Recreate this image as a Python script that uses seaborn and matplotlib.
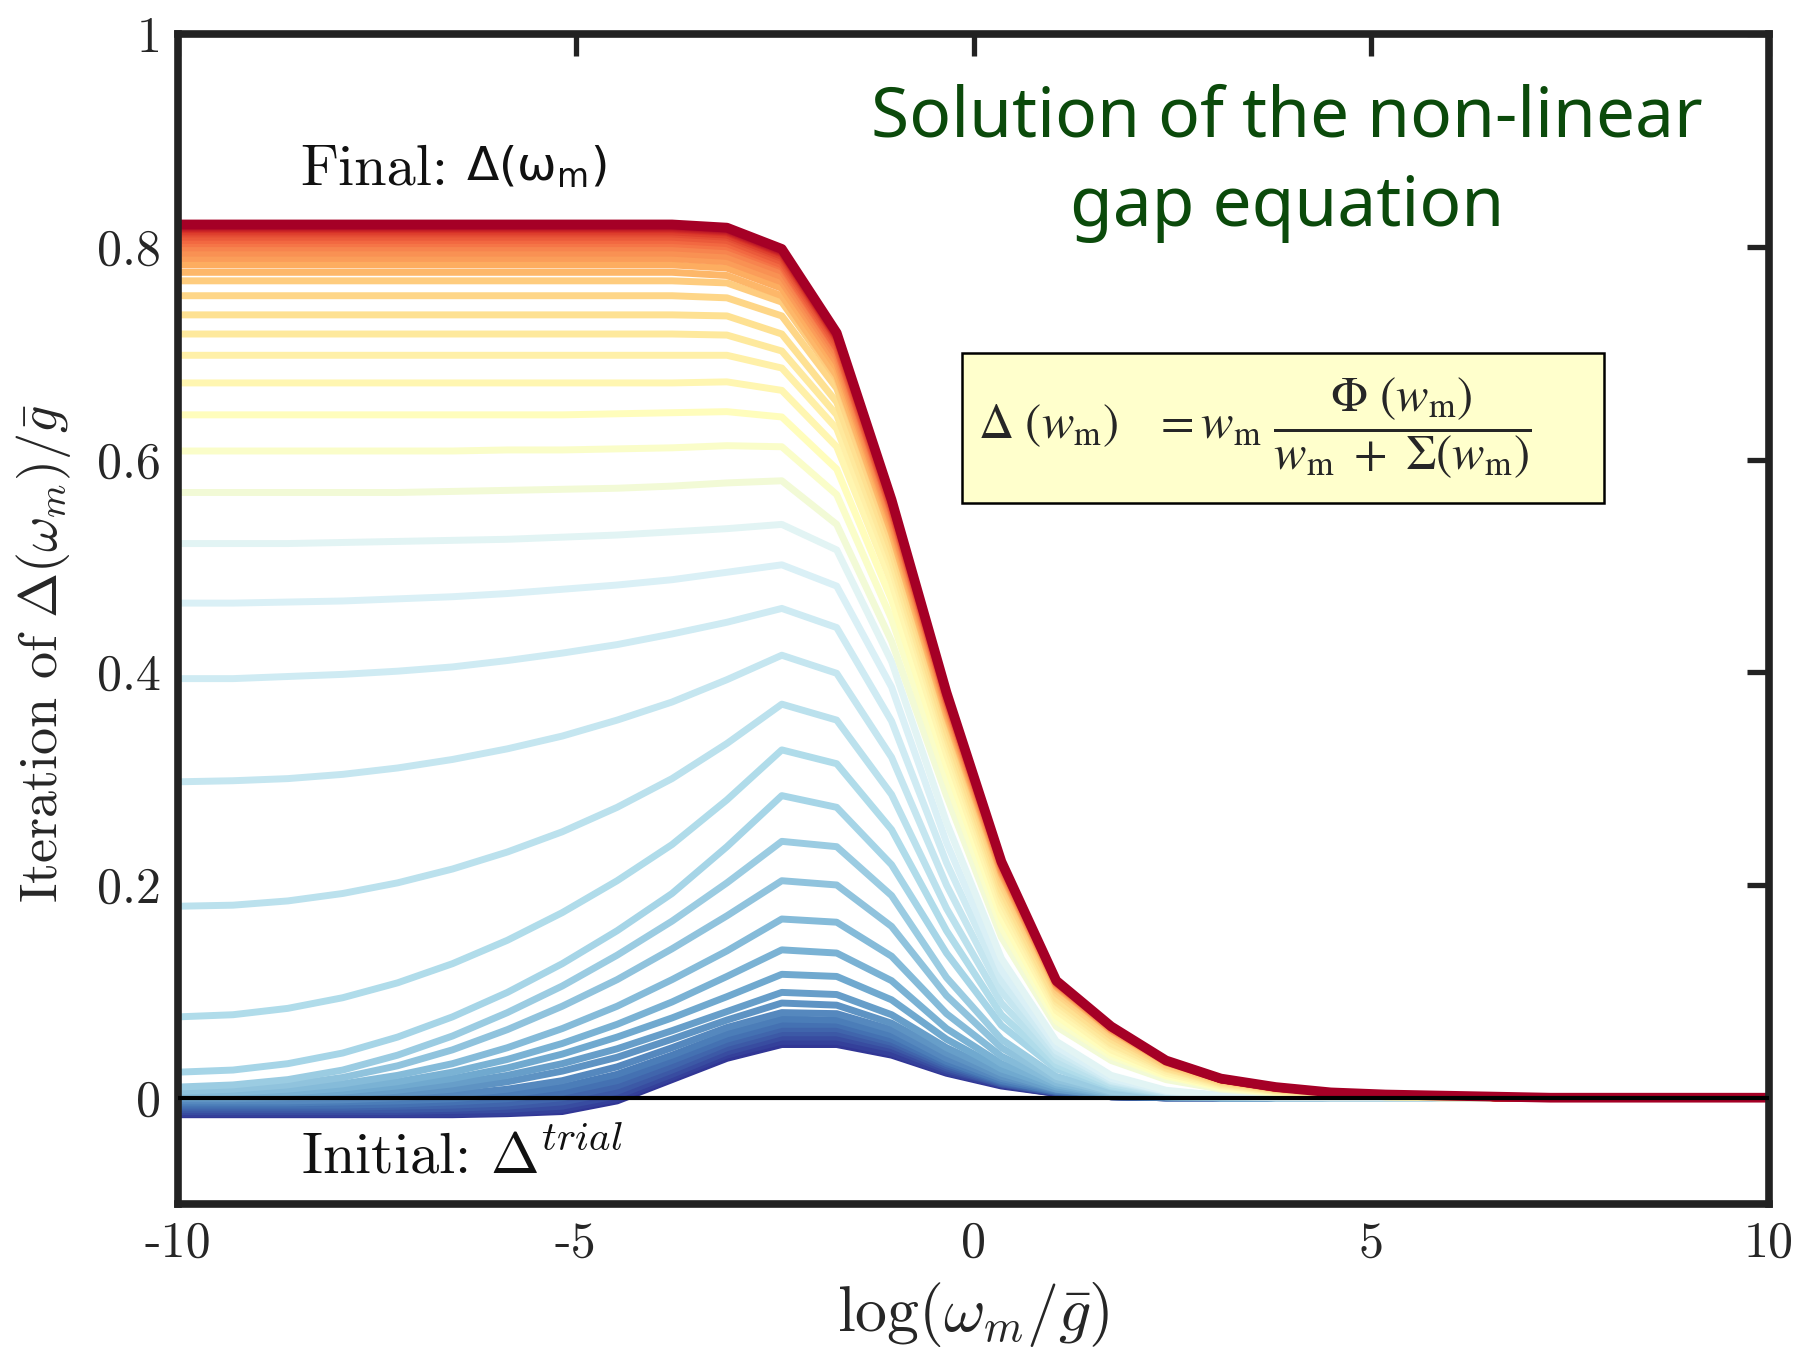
import numpy as np
import pandas as pd
import matplotlib
matplotlib.use("Agg")
import matplotlib.pyplot as plt
from matplotlib.patches import Rectangle
import seaborn as sns

# ---------------- data ----------------
log_w = [-10.0, -9.31, -8.62, -7.93, -7.24, -6.55, -5.86, -5.17, -4.48, -3.79,
         -3.10, -2.41, -1.72, -1.03, -0.34, 0.35, 1.04, 1.73, 2.42, 3.11,
         3.80, 4.49, 5.18, 5.87, 6.56, 7.25, 7.94, 8.63, 9.32, 10.0]

# early iterations (starting from the trial function, dark blue band)
trial_band = [
    [-0.016, -0.016, -0.016, -0.016, -0.016, -0.016, -0.015, -0.013, -0.003, 0.017, 0.037, 0.050, 0.050, 0.040, 0.023, 0.011, 0.004, 0.001, 0, 0, 0, 0, 0, 0, 0, 0, 0, 0, 0, 0],
    [-0.015, -0.015, -0.015, -0.015, -0.015, -0.015, -0.014, -0.011, -0.001, 0.019, 0.040, 0.053, 0.053, 0.042, 0.024, 0.012, 0.004, 0.001, 0, 0, 0, 0, 0, 0, 0, 0, 0, 0, 0, 0],
    [-0.013, -0.013, -0.013, -0.013, -0.013, -0.012, -0.011, -0.008, 0.002, 0.022, 0.043, 0.057, 0.057, 0.046, 0.026, 0.013, 0.005, 0.001, 0, 0, 0, 0, 0, 0, 0, 0, 0, 0, 0, 0],
    [-0.011, -0.011, -0.011, -0.011, -0.011, -0.010, -0.008, -0.004, 0.006, 0.026, 0.047, 0.061, 0.061, 0.049, 0.028, 0.013, 0.005, 0.001, 0, 0, 0, 0, 0, 0, 0, 0, 0, 0, 0, 0],
    [-0.009, -0.009, -0.009, -0.009, -0.008, -0.007, -0.005, 0.000, 0.011, 0.030, 0.051, 0.065, 0.065, 0.052, 0.030, 0.014, 0.005, 0.001, 0, 0, 0, 0, 0, 0, 0, 0, 0, 0, 0, 0],
    [-0.007, -0.007, -0.007, -0.007, -0.006, -0.004, -0.001, 0.005, 0.016, 0.035, 0.055, 0.069, 0.069, 0.055, 0.032, 0.015, 0.006, 0.001, 0, 0, 0, 0, 0, 0, 0, 0, 0, 0, 0, 0],
    [-0.005, -0.005, -0.005, -0.004, -0.003, -0.001, 0.003, 0.010, 0.022, 0.040, 0.060, 0.074, 0.073, 0.059, 0.034, 0.016, 0.006, 0.002, 0, 0, 0, 0, 0, 0, 0, 0, 0, 0, 0, 0],
    [-0.003, -0.003, -0.003, -0.002, 0.000, 0.003, 0.008, 0.016, 0.029, 0.047, 0.066, 0.080, 0.079, 0.064, 0.037, 0.018, 0.007, 0.002, 0, 0, 0, 0, 0, 0, 0, 0, 0, 0, 0, 0],
]

# growing iterations (light blue lines)
blue_iters = [
    [-0.001, -0.001, 0.000, 0.001, 0.004, 0.008, 0.015, 0.025, 0.038, 0.055, 0.073, 0.089, 0.087, 0.070, 0.042, 0.020, 0.008, 0.002, 0.001, 0, 0, 0, 0, 0, 0, 0, 0, 0, 0, 0],
    [0.000, 0.000, 0.001, 0.003, 0.007, 0.013, 0.021, 0.032, 0.046, 0.063, 0.081, 0.099, 0.097, 0.078, 0.047, 0.023, 0.008, 0.002, 0.001, 0, 0, 0, 0, 0, 0, 0, 0, 0, 0, 0],
    [0.001, 0.001, 0.003, 0.006, 0.011, 0.018, 0.028, 0.041, 0.057, 0.075, 0.095, 0.116, 0.114, 0.092, 0.055, 0.027, 0.010, 0.003, 0.001, 0, 0, 0, 0, 0, 0, 0, 0, 0, 0, 0],
    [0.002, 0.003, 0.005, 0.009, 0.015, 0.024, 0.036, 0.051, 0.069, 0.090, 0.114, 0.139, 0.136, 0.110, 0.065, 0.032, 0.012, 0.003, 0.001, 0, 0, 0, 0, 0, 0, 0, 0, 0, 0, 0],
    [0.004, 0.005, 0.008, 0.013, 0.021, 0.032, 0.047, 0.065, 0.086, 0.111, 0.138, 0.168, 0.165, 0.133, 0.079, 0.039, 0.014, 0.004, 0.001, 0, 0, 0, 0, 0, 0, 0, 0, 0, 0, 0],
    [0.006, 0.008, 0.012, 0.019, 0.030, 0.045, 0.064, 0.086, 0.111, 0.140, 0.171, 0.204, 0.200, 0.161, 0.096, 0.047, 0.017, 0.005, 0.001, 0, 0, 0, 0, 0, 0, 0, 0, 0, 0, 0],
    [0.010, 0.012, 0.017, 0.026, 0.040, 0.058, 0.080, 0.105, 0.134, 0.166, 0.202, 0.241, 0.236, 0.190, 0.113, 0.055, 0.020, 0.006, 0.002, 0, 0, 0, 0, 0, 0, 0, 0, 0, 0, 0],
    [0.024, 0.026, 0.032, 0.042, 0.057, 0.076, 0.099, 0.126, 0.157, 0.192, 0.236, 0.284, 0.273, 0.219, 0.136, 0.068, 0.027, 0.010, 0.003, 0.001, 0, 0, 0, 0, 0, 0, 0, 0, 0, 0],
    [0.076, 0.078, 0.084, 0.094, 0.108, 0.126, 0.148, 0.174, 0.204, 0.238, 0.280, 0.327, 0.314, 0.252, 0.157, 0.078, 0.031, 0.011, 0.004, 0.001, 0, 0, 0, 0, 0, 0, 0, 0, 0, 0],
    [0.180, 0.181, 0.185, 0.192, 0.202, 0.215, 0.231, 0.250, 0.273, 0.300, 0.333, 0.370, 0.355, 0.285, 0.178, 0.089, 0.035, 0.013, 0.004, 0.001, 0, 0, 0, 0, 0, 0, 0, 0, 0, 0],
    [0.297, 0.298, 0.300, 0.304, 0.310, 0.318, 0.328, 0.340, 0.355, 0.372, 0.393, 0.416, 0.399, 0.320, 0.200, 0.100, 0.040, 0.015, 0.005, 0.002, 0, 0, 0, 0, 0, 0, 0, 0, 0, 0],
    [0.394, 0.394, 0.396, 0.398, 0.401, 0.405, 0.411, 0.418, 0.426, 0.436, 0.447, 0.460, 0.442, 0.354, 0.221, 0.110, 0.044, 0.016, 0.006, 0.002, 0, 0, 0, 0, 0, 0, 0, 0, 0, 0],
    [0.465, 0.465, 0.466, 0.467, 0.469, 0.471, 0.474, 0.478, 0.482, 0.487, 0.494, 0.501, 0.481, 0.386, 0.240, 0.120, 0.048, 0.018, 0.006, 0.002, 0.001, 0, 0, 0, 0, 0, 0, 0, 0, 0],
    [0.521, 0.521, 0.521, 0.522, 0.523, 0.524, 0.525, 0.527, 0.529, 0.532, 0.535, 0.539, 0.515, 0.410, 0.259, 0.131, 0.053, 0.021, 0.007, 0.002, 0.001, 0, 0, 0, 0, 0, 0, 0, 0, 0],
]

# converging iterations (pale green / yellow lines)
yellow_iters = [
    [0.569, 0.569, 0.569, 0.569, 0.569, 0.570, 0.571, 0.572, 0.573, 0.575, 0.578, 0.580, 0.539, 0.429, 0.284, 0.151, 0.067, 0.035, 0.017, 0.008, 0.004, 0.002, 0.001, 0, 0, 0, 0, 0, 0, 0],
    [0.608, 0.608, 0.608, 0.608, 0.608, 0.608, 0.609, 0.609, 0.610, 0.611, 0.613, 0.612, 0.567, 0.450, 0.299, 0.160, 0.072, 0.039, 0.020, 0.009, 0.005, 0.002, 0.001, 0, 0, 0, 0, 0, 0, 0],
    [0.642, 0.642, 0.642, 0.642, 0.642, 0.642, 0.642, 0.642, 0.643, 0.644, 0.645, 0.640, 0.591, 0.468, 0.312, 0.169, 0.077, 0.042, 0.021, 0.010, 0.005, 0.003, 0.001, 0, 0, 0, 0, 0, 0, 0],
    [0.672, 0.672, 0.672, 0.672, 0.672, 0.672, 0.672, 0.672, 0.672, 0.672, 0.673, 0.665, 0.612, 0.484, 0.323, 0.177, 0.082, 0.045, 0.023, 0.011, 0.006, 0.003, 0.001, 0, 0, 0, 0, 0, 0, 0],
    [0.698, 0.698, 0.698, 0.698, 0.698, 0.698, 0.698, 0.698, 0.698, 0.698, 0.698, 0.686, 0.629, 0.497, 0.332, 0.184, 0.086, 0.049, 0.025, 0.012, 0.006, 0.003, 0.001, 0.001, 0, 0, 0, 0, 0, 0],
    [0.718, 0.718, 0.718, 0.718, 0.718, 0.718, 0.718, 0.718, 0.718, 0.718, 0.717, 0.702, 0.642, 0.505, 0.339, 0.190, 0.090, 0.051, 0.027, 0.013, 0.007, 0.004, 0.001, 0.001, 0, 0, 0, 0, 0, 0],
    [0.736, 0.736, 0.736, 0.736, 0.736, 0.736, 0.736, 0.736, 0.736, 0.736, 0.735, 0.718, 0.654, 0.514, 0.345, 0.195, 0.093, 0.055, 0.028, 0.014, 0.007, 0.004, 0.002, 0.001, 0, 0, 0, 0, 0, 0],
    [0.754, 0.754, 0.754, 0.754, 0.754, 0.754, 0.754, 0.754, 0.754, 0.754, 0.752, 0.735, 0.667, 0.523, 0.353, 0.201, 0.098, 0.058, 0.030, 0.015, 0.008, 0.004, 0.002, 0.001, 0, 0, 0, 0, 0, 0],
    [0.768, 0.768, 0.768, 0.768, 0.768, 0.768, 0.768, 0.768, 0.768, 0.768, 0.766, 0.748, 0.676, 0.530, 0.358, 0.206, 0.101, 0.061, 0.031, 0.016, 0.008, 0.004, 0.002, 0.001, 0, 0, 0, 0, 0, 0],
]

# last iterations (orange / red band); the final one is the solution
red_iters = [
    [0.776, 0.776, 0.776, 0.776, 0.776, 0.776, 0.776, 0.776, 0.776, 0.776, 0.773, 0.754, 0.679, 0.531, 0.360, 0.210, 0.104, 0.063, 0.033, 0.017, 0.009, 0.005, 0.003, 0.002, 0, 0, 0, 0, 0, 0],
    [0.783, 0.783, 0.783, 0.783, 0.783, 0.783, 0.783, 0.783, 0.783, 0.783, 0.780, 0.761, 0.686, 0.536, 0.363, 0.212, 0.105, 0.064, 0.033, 0.017, 0.009, 0.005, 0.003, 0.002, 0, 0, 0, 0, 0, 0],
    [0.789, 0.789, 0.789, 0.789, 0.789, 0.789, 0.789, 0.789, 0.789, 0.789, 0.786, 0.767, 0.691, 0.540, 0.366, 0.213, 0.106, 0.064, 0.034, 0.017, 0.009, 0.005, 0.003, 0.002, 0, 0, 0, 0, 0, 0],
    [0.794, 0.794, 0.794, 0.794, 0.794, 0.794, 0.794, 0.794, 0.794, 0.794, 0.791, 0.772, 0.696, 0.543, 0.368, 0.215, 0.107, 0.065, 0.034, 0.017, 0.009, 0.005, 0.003, 0.002, 0, 0, 0, 0, 0, 0],
    [0.799, 0.799, 0.799, 0.799, 0.799, 0.799, 0.799, 0.799, 0.799, 0.799, 0.796, 0.777, 0.700, 0.547, 0.371, 0.216, 0.107, 0.065, 0.034, 0.017, 0.009, 0.005, 0.003, 0.002, 0, 0, 0, 0, 0, 0],
    [0.803, 0.803, 0.803, 0.803, 0.803, 0.803, 0.803, 0.803, 0.803, 0.803, 0.800, 0.781, 0.704, 0.550, 0.373, 0.217, 0.108, 0.066, 0.034, 0.017, 0.009, 0.005, 0.003, 0.002, 0, 0, 0, 0, 0, 0],
    [0.806, 0.806, 0.806, 0.806, 0.806, 0.806, 0.806, 0.806, 0.806, 0.806, 0.803, 0.783, 0.705, 0.551, 0.373, 0.218, 0.108, 0.066, 0.034, 0.017, 0.009, 0.005, 0.003, 0.002, 0, 0, 0, 0, 0, 0],
    [0.809, 0.809, 0.809, 0.809, 0.809, 0.809, 0.809, 0.809, 0.809, 0.809, 0.806, 0.786, 0.708, 0.553, 0.375, 0.219, 0.108, 0.066, 0.035, 0.017, 0.009, 0.005, 0.003, 0.002, 0, 0, 0, 0, 0, 0],
    [0.812, 0.812, 0.812, 0.812, 0.812, 0.812, 0.812, 0.812, 0.812, 0.812, 0.809, 0.789, 0.711, 0.555, 0.376, 0.219, 0.109, 0.066, 0.035, 0.017, 0.009, 0.005, 0.003, 0.002, 0, 0, 0, 0, 0, 0],
    [0.814, 0.814, 0.814, 0.814, 0.814, 0.814, 0.814, 0.814, 0.814, 0.814, 0.811, 0.791, 0.713, 0.557, 0.377, 0.220, 0.109, 0.066, 0.035, 0.017, 0.009, 0.005, 0.003, 0.002, 0, 0, 0, 0, 0, 0],
    [0.816, 0.816, 0.816, 0.816, 0.816, 0.816, 0.816, 0.816, 0.816, 0.816, 0.813, 0.793, 0.714, 0.558, 0.378, 0.220, 0.109, 0.067, 0.035, 0.017, 0.010, 0.005, 0.003, 0.002, 0, 0, 0, 0, 0, 0],
    [0.817, 0.817, 0.817, 0.817, 0.817, 0.817, 0.817, 0.817, 0.817, 0.817, 0.814, 0.794, 0.715, 0.559, 0.379, 0.221, 0.110, 0.067, 0.035, 0.017, 0.010, 0.005, 0.003, 0.002, 0, 0, 0, 0, 0, 0],
    [0.818, 0.818, 0.818, 0.818, 0.818, 0.818, 0.818, 0.818, 0.818, 0.818, 0.815, 0.795, 0.716, 0.560, 0.379, 0.221, 0.110, 0.067, 0.035, 0.017, 0.010, 0.005, 0.003, 0.002, 0, 0, 0, 0, 0, 0],
    [0.819, 0.819, 0.819, 0.819, 0.819, 0.819, 0.819, 0.819, 0.819, 0.819, 0.816, 0.796, 0.717, 0.560, 0.380, 0.221, 0.110, 0.067, 0.035, 0.018, 0.010, 0.005, 0.003, 0.002, 0, 0, 0, 0, 0, 0],
    [0.820, 0.820, 0.820, 0.820, 0.820, 0.820, 0.820, 0.820, 0.820, 0.820, 0.817, 0.797, 0.718, 0.561, 0.380, 0.222, 0.110, 0.067, 0.035, 0.018, 0.010, 0.005, 0.003, 0.002, 0, 0, 0, 0, 0, 0],
    [0.821, 0.821, 0.821, 0.821, 0.821, 0.821, 0.821, 0.821, 0.821, 0.821, 0.818, 0.798, 0.719, 0.562, 0.381, 0.222, 0.110, 0.067, 0.035, 0.018, 0.010, 0.005, 0.003, 0.002, 0.001, 0, 0, 0, 0, 0],
]

x_ticks = [-10, -5, 0, 5, 10]
x_tick_labels = ["-10", "-5", "0", "5", "10"]
y_ticks = [0, 0.2, 0.4, 0.6, 0.8, 1]
y_tick_labels = ["0", "0.2", "0.4", "0.6", "0.8", "1"]

# ---------------- build long table ----------------
groups = [trial_band + blue_iters, yellow_iters, red_iters]
all_iters = trial_band + blue_iters + yellow_iters + red_iters
rows = []
for it, curve in enumerate(all_iters):
    for xv, yv in zip(log_w, curve):
        rows.append((xv, yv, it))
df = pd.DataFrame(rows, columns=["log_w", "delta", "iteration"])
final = red_iters[-1]

# colour of each iteration along the RdYlBu_r map (blue -> yellow -> red)
cmap = plt.get_cmap("RdYlBu_r")
cpos = list(np.linspace(0.0, 0.41, len(groups[0]))) + \
       list(np.linspace(0.46, 0.64, len(groups[1]))) + \
       list(np.linspace(0.68, 1.0, len(groups[2])))
palette = {i: cmap(p) for i, p in enumerate(cpos)}

# ---------------- style ----------------
sns.set_style("white")
plt.rcParams["font.family"] = ["DejaVu Sans"]
plt.rcParams["mathtext.fontset"] = "cm"
plt.rcParams["axes.unicode_minus"] = False

fig = plt.figure(figsize=(18.02, 13.57), dpi=100)
ax = fig.add_axes([0.0988, 0.1127, 0.8829, 0.8622])

sns.lineplot(data=df, x="log_w", y="delta", hue="iteration", palette=palette,
             estimator=None, sort=False, legend=False, linewidth=5.0, ax=ax)
sns.lineplot(x=log_w, y=final, color=cmap(1.0), linewidth=7.0, ax=ax,
             estimator=None, sort=False)
ax.axhline(0, color="black", linewidth=3.0, zorder=10)

ax.set_xlim(-10, 10)
ax.set_ylim(-0.1, 1)
ax.set_xticks(x_ticks)
ax.set_xticklabels(x_tick_labels, fontfamily="cmr10", fontsize=36)
ax.set_yticks(y_ticks)
ax.set_yticklabels(y_tick_labels, fontfamily="cmr10", fontsize=36)
ax.tick_params(direction="in", length=16, width=3.8, top=True, right=True,
               color="#222222", pad=12)
for s in ax.spines.values():
    s.set_linewidth(5.5)
    s.set_color("#222222")
    s.set_visible(True)

ax.set_xlabel(r"$\log(\omega_m/\bar{g})$", fontsize=46, labelpad=10)
ax.set_ylabel(r"Iteration of $\Delta(\omega_m)/\bar{g}$", fontfamily="cmr10",
              fontsize=39)
ax.yaxis.set_label_coords(-0.066, 0.47)

# annotations
ax.text(0.077, 0.884, "Final:", transform=ax.transAxes, fontfamily="cmr10",
        fontsize=42, va="center", ha="left", color="#111111")
ax.text(0.181, 0.886, r"Δ(ω$_{\mathrm{m}}$)", transform=ax.transAxes,
        fontfamily="DejaVu Sans", math_fontfamily="dejavusans", fontsize=34,
        va="center", ha="left", color="#111111")
ax.text(0.077, 0.040, r"Initial: $\Delta^{trial}$", transform=ax.transAxes,
        fontfamily="cmr10", fontsize=42, va="center", ha="left", color="#111111")

ax.text(0.697, 0.928, "Solution of the non-linear", transform=ax.transAxes,
        fontfamily="Noto Sans", fontsize=50, color="#0b4a0b", ha="center", va="center")
ax.text(0.697, 0.851, "gap equation", transform=ax.transAxes,
        fontfamily="Noto Sans", fontsize=50, color="#0b4a0b", ha="center", va="center")

ax.add_patch(Rectangle((0.493, 0.599), 0.403, 0.128, transform=ax.transAxes,
                       facecolor="#ffffcc", edgecolor="black", linewidth=1.8, zorder=11))
ax.text(0.503, 0.664,
        r"$\Delta\ (w_{\mathrm{m}})\ \ \ = w_{\mathrm{m}}\ \dfrac{\Phi\ (w_{\mathrm{m}})}{w_{\mathrm{m}}\ +\ \Sigma(w_{\mathrm{m}})}$",
        transform=ax.transAxes, math_fontfamily="stix", fontsize=35,
        ha="left", va="center", zorder=12)

fig.savefig("out.png", dpi=100)
